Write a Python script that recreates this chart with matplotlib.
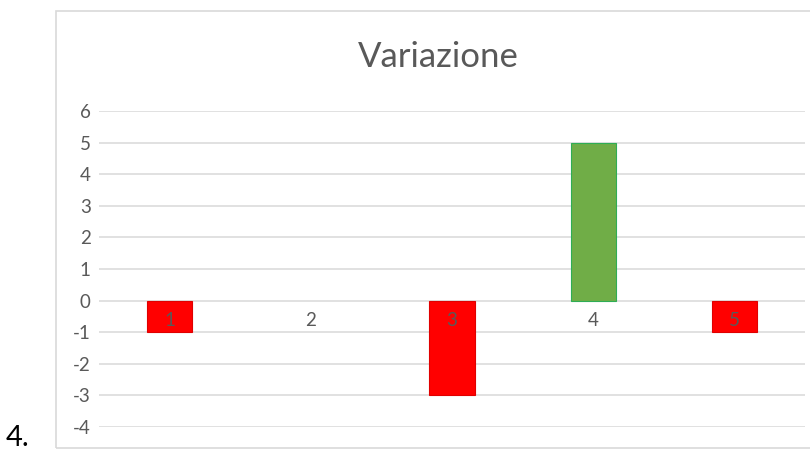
import matplotlib.pyplot as plt
from matplotlib.patches import Rectangle

# chart data
categories = ["1", "2", "3", "4", "5"]
variazione = [-1, 0, -3, 5, -1]
y_ticks = [6, 5, 4, 3, 2, 1, 0, -1, -2, -3, -4]

RED = "#FF0000"
GREEN = "#70AD47"
GRID = "#D9D9D9"
TEXT = "#595959"

plt.rcParams["font.family"] = ["Lato", "DejaVu Sans"]


def plot_variazione():
    fig = plt.figure(figsize=(8.1, 4.5), dpi=100)
    ax = fig.add_axes([99 / 810, 1 - 427 / 450, 706 / 810, 316 / 450])

    # gridlines under the bars
    for t in y_ticks:
        ax.axhline(t, color=GRID, linewidth=1.1, zorder=0)

    x = list(range(len(categories)))
    fills = [GREEN if v > 0 else RED for v in variazione]
    edges = ["#2EAD55" if v > 0 else ("#E00000" if v < 0 else "none")
             for v in variazione]
    ax.bar(x, variazione, width=0.32, color=fills, edgecolor=edges,
           linewidth=0.8, zorder=1)

    ax.set_xlim(-0.5, len(categories) - 0.5)
    ax.set_ylim(min(y_ticks), max(y_ticks))
    ax.set_yticks(y_ticks)
    ax.set_yticklabels([str(t) for t in y_ticks])
    ax.set_xticks(x)
    ax.set_xticklabels(categories)

    for s in ["top", "right", "left", "bottom"]:
        ax.spines[s].set_visible(False)
    ax.spines["bottom"].set_position(("data", 0))

    ax.tick_params(axis="y", length=0, pad=6, labelsize=13.5, labelcolor=TEXT)
    ax.tick_params(axis="x", length=0, pad=8, labelsize=13.5, labelcolor=TEXT)

    fig.text(438 / 810, 1 - 57 / 450, "Variazione", ha="center", va="center",
             fontsize=25, color=TEXT)

    # outer chart frame
    fig.patches.append(Rectangle((56 / 810, 2 / 450), 1.0, 437 / 450,
                                 transform=fig.transFigure, fill=False,
                                 edgecolor=GRID, linewidth=1.2))
    fig.text(6 / 810, 4 / 450, "4.", ha="left", va="baseline",
             fontsize=21, color="black")

    fig.savefig("out.png", dpi=100)


if __name__ == "__main__":
    plot_variazione()
